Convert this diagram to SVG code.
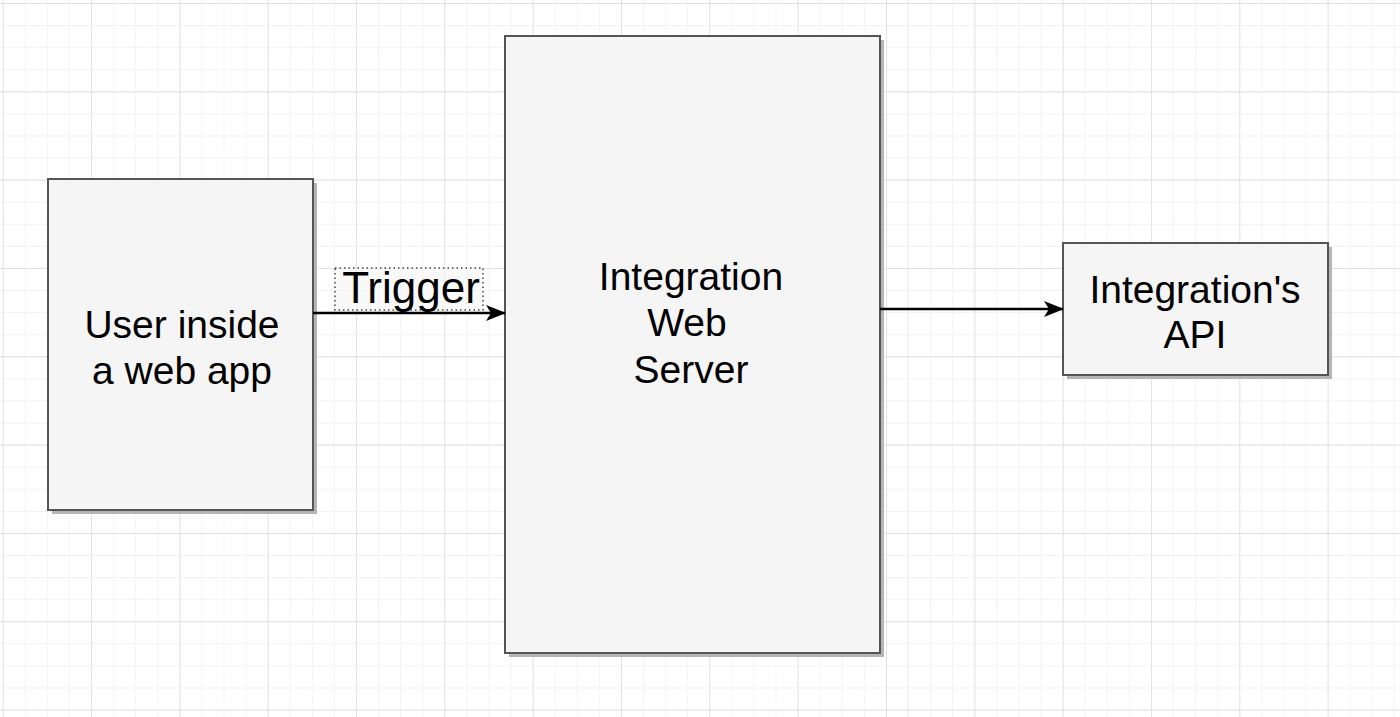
<svg xmlns="http://www.w3.org/2000/svg" width="1400" height="717" viewBox="0 0 1400 717">
<defs>
<pattern id="minor" x="2.7" y="3" width="22.08" height="22.08" patternUnits="userSpaceOnUse">
<path d="M0 0V22.08M0 0H22.08" fill="none" stroke="#eeeeee" stroke-width="1.2"/>
</pattern>
<pattern id="major" x="2.7" y="3" width="88.33" height="88.33" patternUnits="userSpaceOnUse">
<path d="M0 0V88.33M0 0H88.33" fill="none" stroke="#dcdcdc" stroke-width="1.4"/>
</pattern>
<marker id="arrow" viewBox="0 0 20 16" refX="19" refY="8" markerWidth="20" markerHeight="16" markerUnits="userSpaceOnUse" orient="auto">
<path d="M0 0L20 8L0 16L5 8Z" fill="#000"/>
</marker>
</defs>
<style>
.box{fill:#f5f5f5;stroke:#555;stroke-width:2}
.shadow{fill:#b5b5b5}
.lbl{font-family:"Liberation Sans",Arial,sans-serif;font-size:39px;fill:#000;text-anchor:middle}
.edge{fill:none;stroke:#000;stroke-width:2.5}
</style>
<rect width="1400" height="717" fill="#fff"/>
<rect width="1400" height="717" fill="url(#minor)"/>
<rect width="1400" height="717" fill="url(#major)"/>
<g id="user">
<rect class="shadow" x="52" y="183" width="265" height="331"/>
<rect class="box" x="48" y="179" width="265" height="331"/>
<text class="lbl" x="182" y="338">User inside</text>
<text class="lbl" x="182" y="384">a web app</text>
</g>
<g id="server">
<rect class="shadow" x="509" y="40" width="375" height="617"/>
<rect class="box" x="505" y="36" width="375" height="617"/>
<text class="lbl" x="691" y="290">Integration</text>
<text class="lbl" x="687" y="336">Web</text>
<text class="lbl" x="691" y="383">Server</text>
</g>
<g id="api">
<rect class="shadow" x="1067" y="247" width="265" height="132"/>
<rect class="box" x="1063" y="243" width="265" height="132"/>
<text class="lbl" x="1195" y="303">Integration's</text>
<text class="lbl" x="1195" y="348">API</text>
</g>
<g id="connectors">
<path class="edge" d="M313 313H505" marker-end="url(#arrow)"/>
<path class="edge" d="M880 309H1063" marker-end="url(#arrow)"/>
<g id="trigger-label">
<rect x="335" y="268" width="148" height="42" fill="#f5f5f5" fill-opacity="0.6" stroke="#444" stroke-width="1.5" stroke-dasharray="1.5 3"/>
<text x="411" y="303" style="font-family:'Liberation Sans',Arial,sans-serif;font-size:44px;text-anchor:middle;fill:#000">Trigger</text>
</g>
</g>
</svg>
